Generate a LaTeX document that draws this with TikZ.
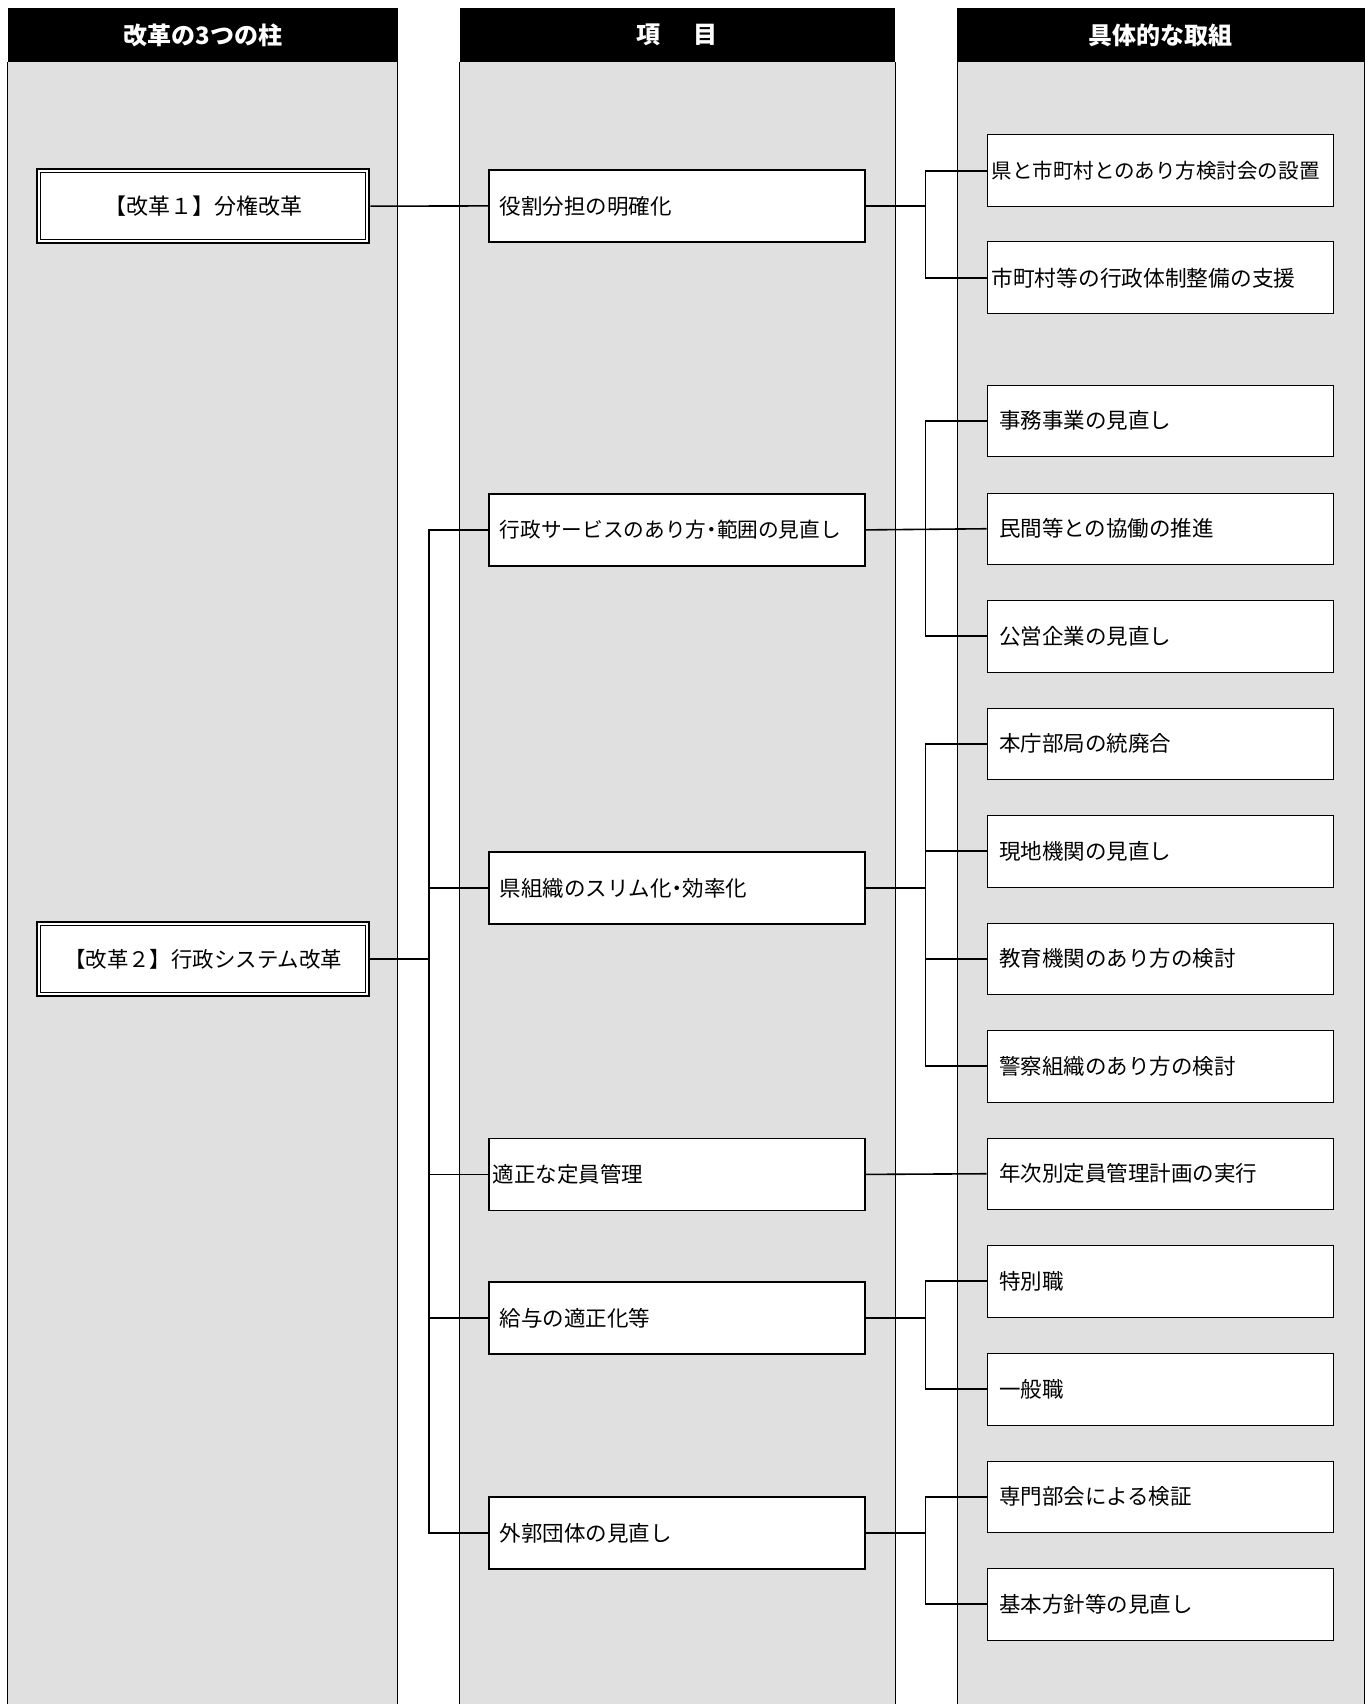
\documentclass[tikz,border=0pt]{standalone}
\usepackage{fontspec}
\usepackage{graphicx}
\newfontfamily\jp{Noto Sans CJK JP}
\usetikzlibrary{calc}
\newcommand{\hdrfont}{\jp\bfseries\fontsize{24}{28}\selectfont}
\newcommand{\midfont}{\jp\fontsize{21.5}{26}\selectfont}
\newcommand{\leftfont}{\jp\fontsize{22}{28}\selectfont}
\newcommand{\ndot}{\makebox[11pt]{・}}
\tikzset{
  colbody/.style={fill=black!12},
  colline/.style={line width=0.8pt},
  hdr/.style={fill=black, text=white, font=\hdrfont, anchor=north west, minimum height=54.5pt, inner sep=0pt},
  midbox/.style={draw, line width=1.8pt, fill=white, anchor=north west, minimum height=72pt, inner xsep=11pt, text width=354pt, align=left, font=\midfont},
  rbox/.style={draw, line width=1pt, fill=white, anchor=north west, minimum height=71.5pt, inner xsep=12pt, text width=322.5pt, align=left, font=\midfont},
  lbox/.style={draw, line width=2.4pt, fill=white, anchor=north west, minimum width=332pt, minimum height=74pt, font=\leftfont},
  conn/.style={line width=1.6pt},
}
\begin{document}
\begin{tikzpicture}[x=1pt,y=-1pt]
\useasboundingbox (0,0) rectangle (1370,1704);
\fill[white] (0,0) rectangle (1370,1704);
% column bodies
\fill[colbody] (7.6,62) rectangle (397.6,1704);
\fill[colbody] (459.5,62) rectangle (895,1704);
\fill[colbody] (957,62) rectangle (1364.5,1704);
\draw[colline] (7.6,62) -- (7.6,1704) (397.6,62) -- (397.6,1704);
\draw[colline] (459.5,62) -- (459.5,1704) (895,62) -- (895,1704);
\draw[colline] (957,62) -- (957,1704) (1364.5,62) -- (1364.5,1704);
% headers
\node[hdr, minimum width=390pt] (h1) at (7.6,7.6) {改革の3つの柱};
\node[hdr, minimum width=435.5pt] (h2) at (459.5,7.6) {項\hspace{33pt}目};
\node[hdr, minimum width=407.5pt] (h3) at (957,7.6) {具体的な取組};
% left boxes
\node[lbox] (l1) at (36,168) {【改革１】分権改革};
\node[lbox] (l2) at (36,921) {\resizebox{278pt}{!}{【改革２】行政システム改革}};
\draw[line width=1.3pt] ($(l1.north west)+(4.6,4.6)$) rectangle ($(l1.south east)+(-4.6,-4.6)$);
\draw[line width=1.3pt] ($(l2.north west)+(4.6,4.6)$) rectangle ($(l2.south east)+(-4.6,-4.6)$);
% middle boxes
\node[midbox] (m1) at (488,169) {役割分担の明確化};
\node[midbox] (m2) at (488,493) {\resizebox{341pt}{!}{行政サービスのあり方\ndot 範囲の見直し}};
\node[midbox] (m3) at (488,851) {県組織のスリム化\ndot 効率化};
\node[midbox, inner xsep=4pt, text width=368pt] (m4) at (488,1137.5) {適正な定員管理};
\node[midbox] (m5) at (488,1281) {給与の適正化等};
\node[midbox] (m6) at (488,1496) {外郭団体の見直し};
% right boxes
\node[rbox, inner xsep=4.5pt, text width=337.5pt] (r1) at (986.5,134.5) {\resizebox{328pt}{!}{\fontsize{24}{28}\selectfont 県と市町村とのあり方検討会の設置}};
\node[rbox, inner xsep=4.5pt, text width=337.5pt] (r2) at (986.5,241.5) {\resizebox{304pt}{!}{\fontsize{24}{28}\selectfont 市町村等の行政体制整備の支援}};
\node[rbox] (r3) at (986.5,384.5) {事務事業の見直し};
\node[rbox] (r4) at (986.5,492.5) {民間等との協働の推進};
\node[rbox] (r5) at (986.5,600) {公営企業の見直し};
\node[rbox] (r6) at (986.5,707.5) {本庁部局の統廃合};
\node[rbox] (r7) at (986.5,815) {現地機関の見直し};
\node[rbox] (r8) at (986.5,922.5) {教育機関のあり方の検討};
\node[rbox] (r9) at (986.5,1030) {警察組織のあり方の検討};
\node[rbox] (r10) at (986.5,1137.5) {年次別定員管理計画の実行};
\node[rbox] (r11) at (986.5,1245) {特別職};
\node[rbox] (r12) at (986.5,1353) {一般職};
\node[rbox] (r13) at (986.5,1460.5) {専門部会による検証};
\node[rbox] (r14) at (986.5,1568) {基本方針等の見直し};
% junction columns
\coordinate (lx) at (429,0);
\coordinate (rx) at (925.6,0);
% connectors left
\draw[conn] (l1.east) -- (m1.west);
\draw[conn] (l2.east) -- (l2.east -| lx);
\draw[conn] (m2.west) -- (m2.west -| lx) -- (m6.west -| lx) -- (m6.west);
\draw[conn] (m3.west) -- (m3.west -| lx);
\draw[conn] (m4.west) -- (m4.west -| lx);
\draw[conn] (m5.west) -- (m5.west -| lx);
% connectors right
\draw[conn] (m1.east) -- (m1.east -| rx);
\draw[conn] (r1.west) -- (r1.west -| rx) -- (r2.west -| rx) -- (r2.west);
\draw[conn] (m2.east) -- (r4.west);
\draw[conn] (r3.west) -- (r3.west -| rx) -- (r5.west -| rx) -- (r5.west);
\draw[conn] (m3.east) -- (m3.east -| rx);
\draw[conn] (r6.west) -- (r6.west -| rx) -- (r9.west -| rx) -- (r9.west);
\draw[conn] (r7.west) -- (r7.west -| rx);
\draw[conn] (r8.west) -- (r8.west -| rx);
\draw[conn] (m4.east) -- (r10.west);
\draw[conn] (m5.east) -- (m5.east -| rx);
\draw[conn] (r11.west) -- (r11.west -| rx) -- (r12.west -| rx) -- (r12.west);
\draw[conn] (m6.east) -- (m6.east -| rx);
\draw[conn] (r13.west) -- (r13.west -| rx) -- (r14.west -| rx) -- (r14.west);
\end{tikzpicture}
\end{document}
